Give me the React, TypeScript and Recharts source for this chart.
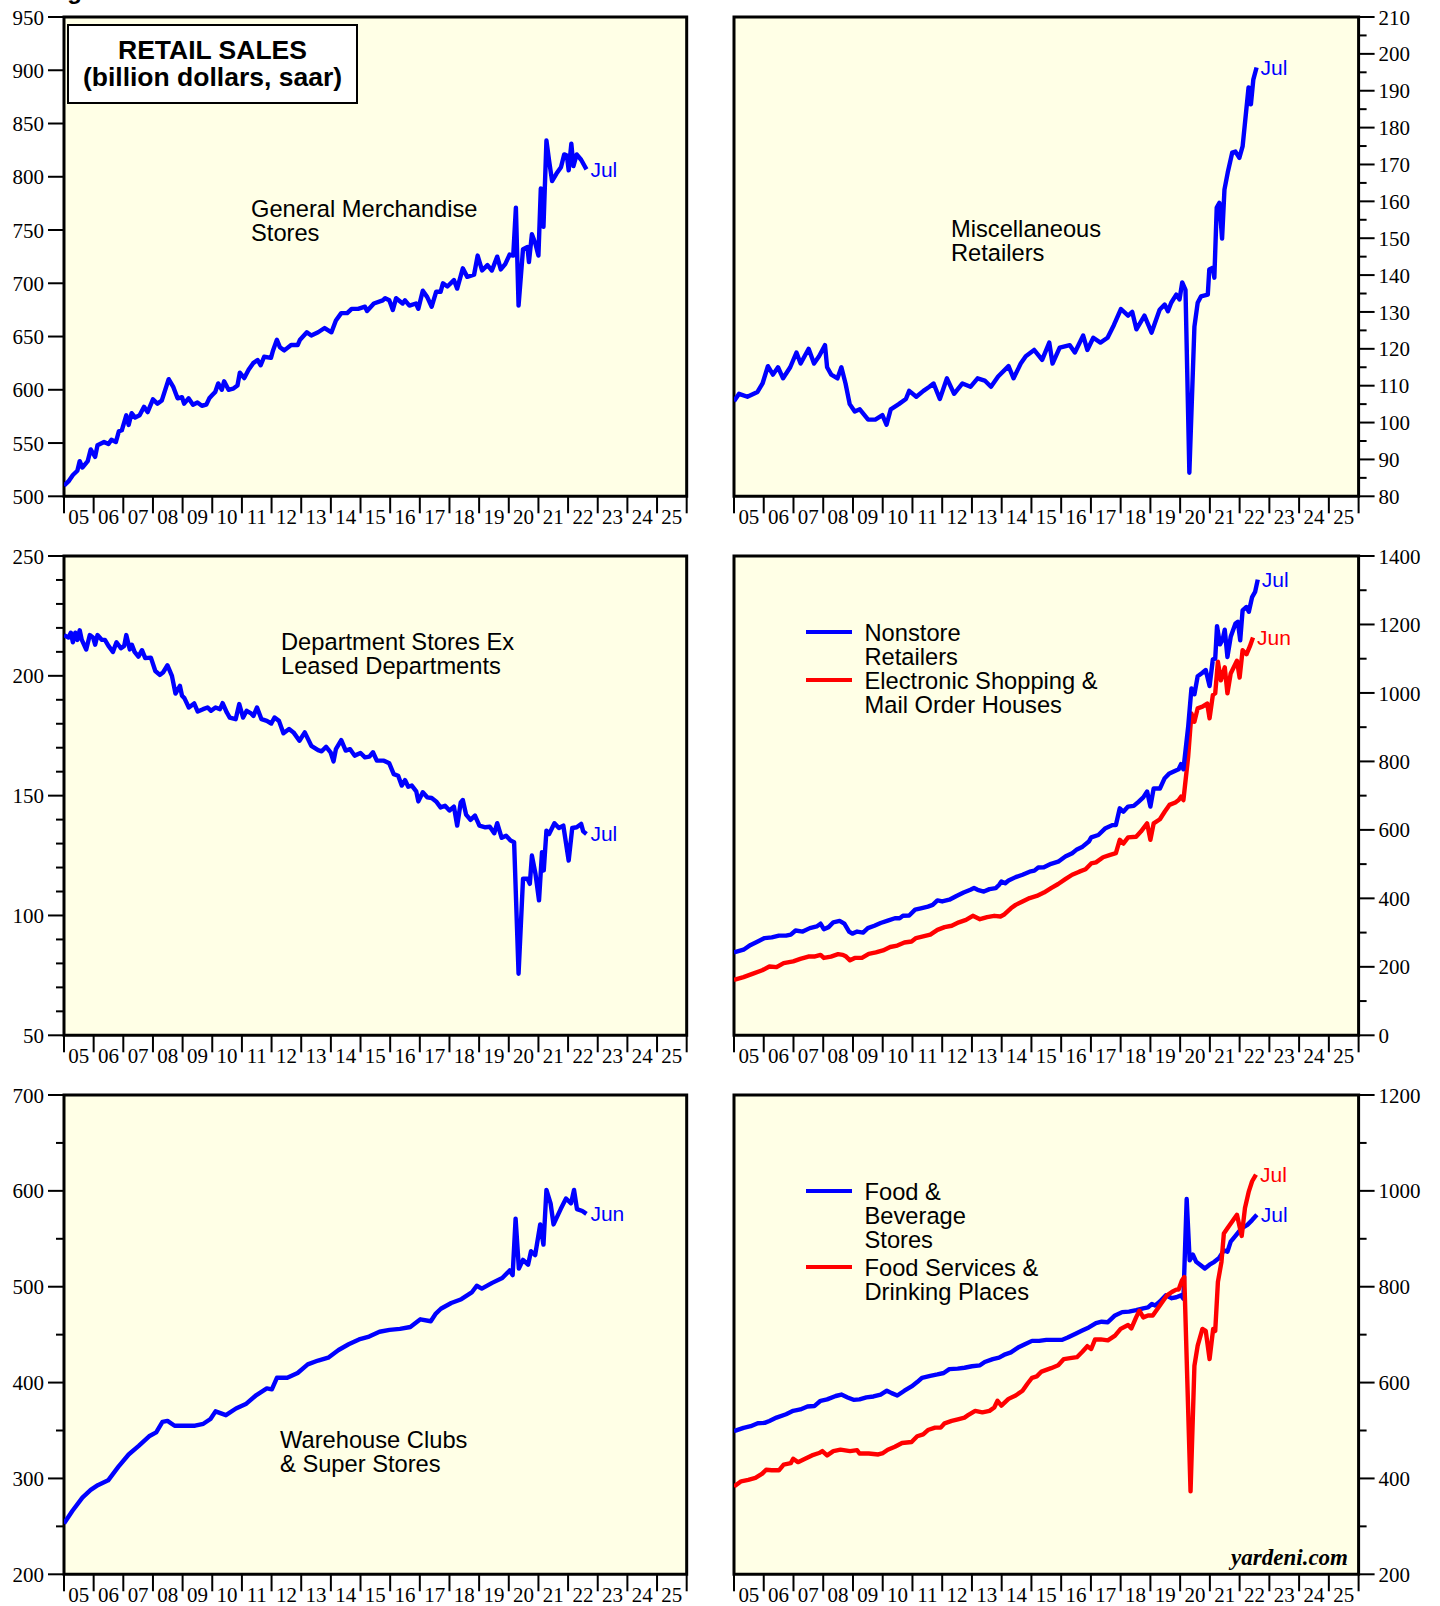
import React from "react";
import { LineChart, Line, XAxis, YAxis, ReferenceArea, ReferenceDot, Label } from "recharts";

type Pt = [number, number];

// x axis: year boundaries and the two-digit labels centred in each year
const yearLabels = ["05", "06", "07", "08", "09", "10", "11", "12", "13", "14", "15", "16", "17", "18", "19", "20", "21", "22", "23", "24", "25"];

// y ticks per panel
const gmMajor = [500, 550, 600, 650, 700, 750, 800, 850, 900, 950];
const gmMinor: number[] = [];
const miscMajor = [80, 90, 100, 110, 120, 130, 140, 150, 160, 170, 180, 190, 200, 210];
const miscMinor = [85, 95, 105, 115, 125, 135, 145, 155, 165, 175, 185, 195, 205];
const deptMajor = [50, 100, 150, 200, 250];
const deptMinor = [60, 70, 80, 90, 110, 120, 130, 140, 160, 170, 180, 190, 210, 220, 230, 240];
const nonstoreMajor = [0, 200, 400, 600, 800, 1000, 1200, 1400];
const nonstoreMinor = [100, 300, 500, 700, 900, 1100, 1300];
const whMajor = [200, 300, 400, 500, 600, 700];
const whMinor = [250, 350, 450, 550, 650];
const foodMajor = [200, 400, 600, 800, 1000, 1200];
const foodMinor = [300, 500, 700, 900, 1100];

// General Merchandise Stores
const generalMerch: Pt[] = [
  [2005.0, 510], [2005.15, 514], [2005.3, 520], [2005.45, 524], [2005.53, 533], [2005.62, 527], [2005.8, 533], [2005.9, 544],
  [2006.05, 537], [2006.13, 548], [2006.35, 551], [2006.5, 549], [2006.6, 553], [2006.75, 551], [2006.85, 561], [2006.95, 562],
  [2007.1, 576], [2007.18, 567], [2007.28, 578], [2007.4, 574], [2007.55, 576], [2007.7, 584], [2007.82, 579], [2008.0, 591],
  [2008.15, 587], [2008.3, 590], [2008.53, 610], [2008.68, 603], [2008.83, 592], [2008.98, 593], [2009.05, 587], [2009.2, 592],
  [2009.35, 586], [2009.5, 588], [2009.65, 585], [2009.8, 586], [2009.9, 592], [2010.0, 595], [2010.1, 598], [2010.2, 606],
  [2010.32, 600], [2010.4, 608], [2010.55, 600], [2010.7, 601], [2010.85, 604], [2010.93, 616], [2011.08, 611], [2011.23, 619],
  [2011.38, 625], [2011.53, 628], [2011.63, 623], [2011.75, 631], [2011.98, 630], [2012.05, 637], [2012.18, 647], [2012.28, 640],
  [2012.43, 637], [2012.66, 642], [2012.88, 642], [2012.96, 647], [2013.19, 654], [2013.34, 651], [2013.57, 654], [2013.79, 658],
  [2014.02, 654], [2014.17, 665], [2014.35, 672], [2014.55, 672], [2014.7, 676], [2014.92, 676], [2015.15, 678], [2015.22, 674],
  [2015.45, 681], [2015.75, 684], [2015.83, 686], [2015.97, 684], [2016.09, 675], [2016.2, 686], [2016.42, 681], [2016.5, 684],
  [2016.65, 679], [2016.87, 681], [2016.95, 676], [2017.1, 693], [2017.25, 687], [2017.4, 678], [2017.55, 692], [2017.7, 692],
  [2017.78, 700], [2017.93, 697], [2018.15, 703], [2018.26, 695], [2018.45, 714], [2018.6, 706], [2018.83, 708], [2018.95, 726],
  [2019.1, 712], [2019.28, 717], [2019.43, 712], [2019.61, 725], [2019.73, 713], [2019.88, 718], [2020.03, 727], [2020.15, 726],
  [2020.24, 771], [2020.33, 679], [2020.48, 732], [2020.63, 734], [2020.68, 720], [2020.78, 746], [2020.9, 737], [2021.0, 726],
  [2021.08, 789], [2021.17, 753], [2021.27, 834], [2021.36, 815], [2021.46, 796], [2021.61, 803], [2021.76, 809], [2021.87, 821],
  [2021.96, 820], [2022.02, 806], [2022.11, 831], [2022.18, 810], [2022.29, 821], [2022.44, 816], [2022.62, 807],
];

// Miscellaneous Retailers
const miscRetail: Pt[] = [
  [2005.0, 105.8], [2005.17, 107.8], [2005.45, 107], [2005.79, 108.3], [2005.96, 110.6], [2006.14, 115.3], [2006.31, 113],
  [2006.48, 115], [2006.65, 112], [2006.89, 115], [2007.1, 119], [2007.24, 116], [2007.51, 120], [2007.69, 116], [2007.86, 118],
  [2008.06, 121], [2008.13, 115], [2008.27, 113], [2008.48, 112], [2008.61, 115], [2008.75, 110.6], [2008.89, 105], [2009.06, 103],
  [2009.23, 103.6], [2009.51, 100.8], [2009.75, 100.8], [2009.99, 102], [2010.13, 99.4], [2010.27, 103.6], [2010.54, 105],
  [2010.78, 106.4], [2010.89, 108.6], [2011.13, 107], [2011.37, 108.6], [2011.57, 109.7], [2011.71, 110.6], [2011.92, 106.4],
  [2012.16, 112], [2012.4, 107.8], [2012.68, 110.6], [2012.95, 109.7], [2013.19, 112], [2013.43, 111.4], [2013.64, 109.7],
  [2013.88, 112.5], [2014.23, 115.3], [2014.4, 112], [2014.64, 116], [2014.81, 118], [2015.09, 119.7], [2015.36, 117],
  [2015.6, 121.7], [2015.71, 116], [2015.95, 120.3], [2016.29, 121], [2016.46, 119], [2016.74, 123.6], [2016.88, 119.7],
  [2017.08, 123], [2017.32, 121.7], [2017.56, 123], [2017.77, 126.4], [2018.01, 130.8], [2018.25, 129], [2018.39, 130],
  [2018.53, 125.3], [2018.8, 129], [2019.04, 124.4], [2019.31, 130.6], [2019.48, 132], [2019.59, 130.2], [2019.7, 132.5],
  [2019.87, 134.7], [2019.98, 133.4], [2020.07, 138], [2020.18, 136], [2020.31, 86.4], [2020.48, 126], [2020.59, 132.5],
  [2020.7, 134.2], [2020.93, 134.7], [2020.98, 141.5], [2021.1, 142], [2021.15, 139.3], [2021.23, 158.3], [2021.32, 159.6],
  [2021.41, 149.9], [2021.49, 163.2], [2021.6, 167.8], [2021.75, 173.2], [2021.86, 173.5], [2021.99, 171.8], [2022.1, 174.9],
  [2022.3, 190.9], [2022.38, 186.3], [2022.46, 193], [2022.57, 196.3],
];

// Department Stores Ex Leased Departments
const deptStores: Pt[] = [
  [2005.0, 217], [2005.15, 216], [2005.23, 218], [2005.3, 214], [2005.38, 218], [2005.45, 215], [2005.53, 219], [2005.6, 215],
  [2005.75, 211], [2005.87, 217], [2005.98, 216], [2006.05, 213], [2006.13, 217], [2006.28, 215], [2006.38, 215], [2006.5, 212.5],
  [2006.65, 210], [2006.77, 214], [2006.92, 211.5], [2007.03, 212.5], [2007.1, 217], [2007.22, 211], [2007.29, 213], [2007.38, 210],
  [2007.51, 208], [2007.63, 210.7], [2007.74, 207.4], [2007.93, 207.6], [2008.08, 202], [2008.23, 200.4], [2008.34, 201.4],
  [2008.49, 204.4], [2008.64, 200], [2008.76, 192.6], [2008.91, 195.8], [2008.98, 191.7], [2009.06, 190.7], [2009.21, 186.8],
  [2009.39, 188.5], [2009.51, 185.1], [2009.69, 186.1], [2009.84, 186.8], [2009.96, 185.4], [2010.11, 186.8], [2010.26, 186.1],
  [2010.35, 188.6], [2010.49, 184.7], [2010.59, 182.6], [2010.79, 181.9], [2010.91, 188.2], [2011.04, 182.6], [2011.16, 185.4],
  [2011.31, 184.3], [2011.39, 183.3], [2011.51, 186.8], [2011.66, 181.9], [2011.84, 181.2], [2011.99, 180.1], [2012.1, 182.6],
  [2012.25, 181.2], [2012.4, 176], [2012.59, 177.8], [2012.74, 176.4], [2012.94, 172.9], [2013.12, 176.4], [2013.34, 170.8],
  [2013.57, 169], [2013.69, 168.5], [2013.84, 170.4], [2013.99, 168.1], [2014.09, 164.3], [2014.17, 169.4], [2014.35, 173.2],
  [2014.5, 168.8], [2014.65, 169.4], [2014.8, 166.7], [2015.0, 167.8], [2015.15, 166], [2015.3, 166.3], [2015.42, 168.1],
  [2015.55, 164.6], [2015.79, 164.6], [2015.97, 163.5], [2016.12, 159], [2016.27, 158.3], [2016.39, 154.2], [2016.5, 156.5],
  [2016.61, 153.7], [2016.73, 154.2], [2016.88, 151.8], [2016.95, 147.6], [2017.1, 151.4], [2017.25, 149.3], [2017.4, 149],
  [2017.55, 147.6], [2017.7, 145.1], [2017.85, 145.8], [2018.0, 143.8], [2018.15, 145.4], [2018.26, 137.5], [2018.38, 147.2],
  [2018.45, 148.2], [2018.56, 142.1], [2018.71, 139.9], [2018.86, 141.7], [2019.01, 137.5], [2019.21, 136.8], [2019.36, 137],
  [2019.51, 134.3], [2019.61, 138.5], [2019.76, 132.4], [2019.91, 133.3], [2020.06, 131.3], [2020.18, 130.6], [2020.33, 75.7],
  [2020.48, 115.3], [2020.63, 115.3], [2020.71, 113.2], [2020.78, 125], [2020.9, 117.4], [2021.02, 106.3], [2021.12, 126.4],
  [2021.18, 118.8], [2021.27, 135.4], [2021.36, 134], [2021.54, 138.5], [2021.69, 136.5], [2021.84, 137.5], [2022.02, 122.9],
  [2022.14, 136.5], [2022.29, 136.8], [2022.44, 138.2], [2022.51, 135.1], [2022.62, 134],
];

// Nonstore Retailers
const nonstore: Pt[] = [
  [2005.0, 242], [2005.32, 250], [2005.56, 264], [2005.8, 274], [2006.03, 284], [2006.27, 286], [2006.51, 291], [2006.75, 291],
  [2006.91, 294], [2007.07, 306], [2007.31, 303], [2007.55, 313], [2007.78, 318], [2007.91, 326], [2008.02, 310], [2008.18, 316],
  [2008.34, 330], [2008.55, 334], [2008.71, 326], [2008.87, 303], [2008.98, 297], [2009.14, 303], [2009.34, 300], [2009.5, 313],
  [2009.72, 320], [2009.93, 328], [2010.17, 335], [2010.41, 342], [2010.57, 342], [2010.68, 349], [2010.89, 350], [2011.09, 367],
  [2011.28, 371], [2011.52, 376], [2011.68, 381], [2011.84, 394], [2012.0, 391], [2012.24, 396], [2012.48, 407], [2012.72, 417],
  [2012.95, 425], [2013.07, 430], [2013.19, 425], [2013.4, 420], [2013.59, 427], [2013.8, 430], [2013.91, 439], [2013.99, 449],
  [2014.12, 444], [2014.23, 452], [2014.47, 462], [2014.7, 469], [2014.94, 478], [2015.1, 481], [2015.23, 490], [2015.42, 491],
  [2015.66, 501], [2015.9, 507], [2016.14, 522], [2016.37, 532], [2016.53, 543], [2016.72, 551], [2016.93, 566], [2017.01, 578],
  [2017.25, 585], [2017.49, 605], [2017.73, 614], [2017.84, 614], [2017.97, 663], [2018.09, 653], [2018.25, 668], [2018.44, 670],
  [2018.6, 682], [2018.76, 695], [2018.89, 712], [2019.0, 668], [2019.11, 721], [2019.32, 721], [2019.48, 751], [2019.64, 765],
  [2019.84, 773], [2019.95, 777], [2020.03, 792], [2020.11, 777], [2020.27, 901], [2020.38, 1013], [2020.48, 996], [2020.59, 1049],
  [2020.75, 1059], [2020.86, 1067], [2020.99, 1020], [2021.1, 1098], [2021.18, 1100], [2021.24, 1195], [2021.34, 1142],
  [2021.43, 1156], [2021.5, 1185], [2021.59, 1105], [2021.7, 1164], [2021.86, 1203], [2021.94, 1208], [2022.02, 1154],
  [2022.1, 1241], [2022.23, 1251], [2022.31, 1237], [2022.42, 1280], [2022.52, 1295], [2022.61, 1331],
];

// Electronic Shopping & Mail Order Houses
const eShopping: Pt[] = [
  [2005.0, 162], [2005.32, 170], [2005.64, 180], [2005.95, 190], [2006.19, 201], [2006.43, 199], [2006.67, 211], [2006.99, 216],
  [2007.23, 223], [2007.5, 230], [2007.7, 230], [2007.91, 235], [2008.02, 226], [2008.26, 230], [2008.5, 237], [2008.66, 235],
  [2008.77, 230], [2008.9, 219], [2009.06, 226], [2009.3, 226], [2009.53, 238], [2009.77, 242], [2010.01, 248], [2010.25, 258],
  [2010.49, 262], [2010.73, 271], [2010.97, 274], [2011.12, 284], [2011.36, 289], [2011.6, 294], [2011.84, 308], [2012.08, 316],
  [2012.32, 320], [2012.56, 330], [2012.8, 337], [2013.03, 349], [2013.27, 339], [2013.51, 345], [2013.75, 349], [2013.96, 347],
  [2014.07, 352], [2014.31, 371], [2014.47, 381], [2014.7, 391], [2014.94, 401], [2015.18, 407], [2015.42, 417], [2015.66, 430],
  [2015.9, 442], [2016.14, 456], [2016.37, 469], [2016.61, 478], [2016.82, 485], [2017.01, 502], [2017.17, 505], [2017.41, 520],
  [2017.65, 527], [2017.84, 532], [2017.97, 571], [2018.09, 560], [2018.25, 578], [2018.52, 580], [2018.68, 595], [2018.89, 619],
  [2019.0, 571], [2019.11, 619], [2019.32, 631], [2019.48, 653], [2019.64, 673], [2019.84, 680], [2019.95, 687], [2020.03, 697],
  [2020.11, 687], [2020.27, 814], [2020.38, 940], [2020.48, 916], [2020.59, 955], [2020.75, 960], [2020.91, 969], [2020.99, 926],
  [2021.1, 994], [2021.18, 999], [2021.27, 1091], [2021.37, 1037], [2021.5, 1075], [2021.59, 999], [2021.7, 1057], [2021.91, 1094],
  [2022.0, 1045], [2022.1, 1125], [2022.23, 1113], [2022.34, 1135], [2022.45, 1162],
];

// Warehouse Clubs & Super Stores
const warehouse: Pt[] = [
  [2005.0, 253], [2005.28, 266], [2005.62, 280], [2005.9, 288], [2006.14, 293], [2006.49, 298], [2006.83, 312], [2007.18, 325],
  [2007.52, 334], [2007.87, 344], [2008.11, 348], [2008.32, 359], [2008.49, 360], [2008.73, 355], [2009.08, 355], [2009.42, 355],
  [2009.7, 357], [2009.94, 362], [2010.11, 370], [2010.46, 366], [2010.8, 373], [2011.15, 378], [2011.49, 387], [2011.84, 394],
  [2012.01, 393], [2012.18, 405], [2012.53, 405], [2012.88, 410], [2013.22, 419], [2013.57, 423], [2013.91, 426], [2014.26, 434],
  [2014.6, 440], [2014.95, 445], [2015.29, 448], [2015.64, 453], [2015.98, 455], [2016.33, 456], [2016.68, 458], [2017.02, 466],
  [2017.37, 464], [2017.54, 472], [2017.71, 477], [2018.06, 483], [2018.4, 487], [2018.75, 494], [2018.92, 501], [2019.09, 498],
  [2019.44, 504], [2019.78, 509], [2020.03, 517], [2020.13, 512], [2020.23, 571], [2020.34, 519], [2020.48, 528], [2020.65, 523],
  [2020.75, 537], [2020.89, 533], [2021.06, 565], [2021.17, 544], [2021.27, 601], [2021.41, 587], [2021.51, 565], [2021.75, 581],
  [2021.93, 592], [2022.1, 587], [2022.2, 601], [2022.3, 581], [2022.48, 579], [2022.62, 576],
];

// Food & Beverage Stores
const foodBev: Pt[] = [
  [2005.0, 498.6], [2005.32, 505.6], [2005.56, 509], [2005.8, 515], [2006.03, 516], [2006.19, 520], [2006.43, 527], [2006.75, 534],
  [2006.99, 541], [2007.23, 544], [2007.47, 550], [2007.7, 551], [2007.91, 562], [2008.13, 565], [2008.42, 572], [2008.61, 575],
  [2008.82, 569], [2009.02, 564], [2009.22, 565], [2009.45, 569], [2009.69, 571], [2009.93, 575], [2010.14, 583], [2010.3, 578],
  [2010.49, 573], [2010.73, 583], [2010.97, 592], [2011.16, 601], [2011.32, 610], [2011.6, 614], [2011.84, 617], [2012.05, 620],
  [2012.24, 628], [2012.52, 629], [2012.75, 631], [2013.0, 634], [2013.27, 636], [2013.43, 643], [2013.7, 649], [2013.91, 652],
  [2014.12, 659], [2014.31, 663], [2014.55, 673], [2014.78, 680], [2015.02, 687], [2015.26, 687], [2015.5, 689], [2015.77, 689],
  [2016.02, 689], [2016.22, 694], [2016.45, 701], [2016.69, 708], [2016.93, 715], [2017.17, 724], [2017.36, 727], [2017.57, 726],
  [2017.81, 740], [2018.05, 747], [2018.28, 748], [2018.52, 751], [2018.76, 755], [2018.92, 757], [2019.05, 764], [2019.16, 761],
  [2019.32, 769], [2019.52, 782], [2019.72, 776], [2019.87, 778], [2020.03, 782], [2020.11, 775], [2020.22, 983], [2020.32, 855],
  [2020.43, 867], [2020.54, 852], [2020.67, 846], [2020.83, 838], [2020.99, 846], [2021.15, 852], [2021.31, 860], [2021.47, 876],
  [2021.59, 873], [2021.7, 894], [2021.86, 906], [2022.07, 922], [2022.26, 929], [2022.42, 939], [2022.58, 950],
];

// Food Services & Drinking Places
const foodServices: Pt[] = [
  [2005.0, 383], [2005.24, 394], [2005.48, 397], [2005.72, 401], [2005.95, 410], [2006.08, 418], [2006.27, 417], [2006.51, 417],
  [2006.67, 429], [2006.91, 432], [2006.99, 441], [2007.15, 434], [2007.39, 441], [2007.62, 448], [2007.86, 453], [2007.97, 457],
  [2008.13, 448], [2008.34, 457], [2008.58, 460], [2008.9, 457], [2009.14, 459], [2009.22, 452], [2009.53, 452], [2009.85, 450],
  [2010.01, 453], [2010.17, 460], [2010.41, 466], [2010.65, 474], [2010.97, 476], [2011.16, 488], [2011.36, 492], [2011.52, 501],
  [2011.76, 506], [2011.95, 506], [2012.08, 515], [2012.32, 520], [2012.56, 524], [2012.75, 527], [2012.87, 532], [2013.11, 541],
  [2013.35, 538], [2013.59, 541], [2013.75, 548], [2013.86, 562], [2013.99, 552], [2014.23, 566], [2014.47, 573], [2014.7, 583],
  [2014.86, 597], [2015.02, 610], [2015.18, 613], [2015.34, 623], [2015.66, 630], [2015.9, 636], [2016.09, 649], [2016.3, 651],
  [2016.53, 653], [2016.72, 665], [2016.88, 676], [2017.01, 670], [2017.14, 690], [2017.33, 690], [2017.57, 688], [2017.81, 698],
  [2018.0, 712], [2018.25, 720], [2018.36, 713], [2018.52, 736], [2018.63, 750], [2018.76, 736], [2018.92, 740], [2019.08, 740],
  [2019.24, 754], [2019.4, 768], [2019.56, 782], [2019.72, 789], [2019.87, 794], [2019.95, 794], [2020.06, 813], [2020.14, 820],
  [2020.35, 373], [2020.48, 635], [2020.59, 677], [2020.75, 712], [2020.86, 708], [2020.99, 649], [2021.11, 712], [2021.18, 708],
  [2021.27, 810], [2021.39, 852], [2021.47, 911], [2021.59, 922], [2021.75, 936], [2021.91, 950], [2022.07, 906], [2022.18, 964],
  [2022.31, 999], [2022.42, 1020], [2022.55, 1034],
];

const SANS = '"Liberation Sans", Arial, Helvetica, sans-serif';
const SERIF = '"Liberation Serif", "Times New Roman", serif';
const BLUE = "#0000ff";
const RED = "#ff0000";
const PLOT_BG = "#ffffe6";

const X0 = 2005;
const X1 = 2026;
const yearTicks = yearLabels.map((_, i) => X0 + i).concat([X1]);
const labelTicks = yearLabels.map((_, i) => X0 + i + 0.5);
const xTicks = [...yearTicks, ...labelTicks].sort((a, b) => a - b);

const TICK = 16;
const TICK_GAP = 4;
const AXIS_W = 60;
const AXIS_W_R = 84;
const TOP_PAD = 10;
const X_AXIS_H = 44;
const LINE_W = 4.4;

const COLS = [
  { x: 63.5, w: 622.7 },
  { x: 734.4, w: 624.6 },
];
const ROWS = [17.4, 556.1, 1094.9];
const PLOT_H = 479.3;

function XTick(props: any) {
  const { x, y, payload } = props;
  const v: number = payload.value;
  if (Number.isInteger(v)) {
    return <line x1={x} x2={x} y1={y - TICK} y2={y + 1} stroke="#000" strokeWidth={2} />;
  }
  return (
    <text x={x} y={y + 11.5} textAnchor="middle" fontFamily={SERIF} fontSize={21} fill="#000">
      {yearLabels[Math.floor(v) - X0]}
    </text>
  );
}

const makeYTick = (side: "left" | "right", major: number[]) => (props: any) => {
  const { x, y, payload } = props;
  const v: number = payload.value;
  const isMajor = major.includes(v);
  const axisX = side === "left" ? x + TICK + TICK_GAP : x - TICK - TICK_GAP;
  const len = isMajor ? TICK : TICK / 2;
  const x2 = side === "left" ? axisX - len : axisX + len;
  return (
    <g>
      <line x1={axisX} x2={x2} y1={y} y2={y} stroke="#000" strokeWidth={2} />
      {isMajor && (
        <text x={x} y={y} dy="0.36em" textAnchor={side === "left" ? "end" : "start"} fontFamily={SERIF} fontSize={21} fill="#000">
          {v}
        </text>
      )}
    </g>
  );
};

interface SeriesDef {
  name: string;
  pts: Pt[];
  color: string;
  end: string;
}

interface PanelProps {
  col: number;
  row: number;
  domain: [number, number];
  major: number[];
  minor: number[];
  series: SeriesDef[];
}

function Panel({ col, row, domain, major, minor, series }: PanelProps) {
  const side = col === 0 ? "left" : "right";
  const { x, w } = COLS[col];
  const chartW = w + AXIS_W + AXIS_W_R;
  const chartH = PLOT_H + TOP_PAD + X_AXIS_H;
  const margin =
    side === "left"
      ? { top: TOP_PAD, right: AXIS_W_R, bottom: 0, left: 0 }
      : { top: TOP_PAD, right: 0, bottom: 0, left: AXIS_W };
  const yTicks = [...major, ...minor].sort((a, b) => a - b);
  return (
    <div style={{ position: "absolute", left: x - AXIS_W, top: ROWS[row] - TOP_PAD, width: chartW, height: chartH }}>
      <LineChart width={chartW} height={chartH} margin={margin}>
        <XAxis
          type="number"
          dataKey="t"
          domain={[X0, X1]}
          ticks={xTicks}
          interval={0}
          tickSize={TICK}
          tickMargin={0}
          axisLine={false}
          tickLine={false}
          tick={XTick}
          height={X_AXIS_H}
          allowDataOverflow
        />
        <YAxis
          type="number"
          orientation={side}
          domain={domain}
          ticks={yTicks}
          interval={0}
          width={side === "left" ? AXIS_W : AXIS_W_R}
          tickSize={TICK}
          tickMargin={TICK_GAP}
          axisLine={false}
          tickLine={false}
          tick={makeYTick(side, major)}
          allowDataOverflow
        />
        <ReferenceArea
          x1={X0}
          x2={X1}
          y1={domain[0]}
          y2={domain[1]}
          fill={PLOT_BG}
          fillOpacity={1}
          stroke="#000"
          strokeWidth={3}
          strokeOpacity={1}
        />
        {series.map((s) => (
          <Line
            key={s.name}
            data={s.pts.map(([t, v]) => ({ t, v }))}
            dataKey="v"
            name={s.name}
            type="linear"
            stroke={s.color}
            strokeWidth={LINE_W}
            strokeLinejoin="round"
            dot={false}
            activeDot={false}
            isAnimationActive={false}
          />
        ))}
        {series.map((s) => {
          const last = s.pts[s.pts.length - 1];
          return (
            <ReferenceDot key={s.name + "-end"} x={last[0]} y={last[1]} r={0} fill="none" stroke="none">
              <Label value={s.end} position="right" offset={4} fill={s.color} fontSize={21} fontFamily={SANS} />
            </ReferenceDot>
          );
        })}
      </LineChart>
    </div>
  );
}

const textStyle: React.CSSProperties = {
  position: "absolute",
  fontFamily: SANS,
  fontSize: 23.7,
  lineHeight: "24px",
  color: "#000",
  whiteSpace: "nowrap",
};

function LegendKey({ x, y, color }: { x: number; y: number; color: string }) {
  return <div style={{ position: "absolute", left: x, top: y - 2, width: 46, height: 4, background: color }} />;
}

export default function App() {
  return (
    <div style={{ position: "absolute", left: 0, top: 0, width: 1440, height: 1606, background: "#fff", overflow: "hidden" }}>
      {/* figure caption, mostly above the top edge as in the source */}
      <div style={{ position: "absolute", left: 46, top: -21, fontFamily: SANS, fontWeight: 700, fontSize: 24, lineHeight: "24px", color: "#000", whiteSpace: "nowrap" }}>
        Figure 6.
      </div>

      <Panel col={0} row={0} domain={[500, 950]} major={gmMajor} minor={gmMinor}
        series={[{ name: "General Merchandise Stores", pts: generalMerch, color: BLUE, end: "Jul" }]} />
      <Panel col={1} row={0} domain={[80, 210]} major={miscMajor} minor={miscMinor}
        series={[{ name: "Miscellaneous Retailers", pts: miscRetail, color: BLUE, end: "Jul" }]} />
      <Panel col={0} row={1} domain={[50, 250]} major={deptMajor} minor={deptMinor}
        series={[{ name: "Department Stores Ex Leased Departments", pts: deptStores, color: BLUE, end: "Jul" }]} />
      <Panel col={1} row={1} domain={[0, 1400]} major={nonstoreMajor} minor={nonstoreMinor}
        series={[
          { name: "Electronic Shopping & Mail Order Houses", pts: eShopping, color: RED, end: "Jun" },
          { name: "Nonstore Retailers", pts: nonstore, color: BLUE, end: "Jul" },
        ]} />
      <Panel col={0} row={2} domain={[200, 700]} major={whMajor} minor={whMinor}
        series={[{ name: "Warehouse Clubs & Super Stores", pts: warehouse, color: BLUE, end: "Jun" }]} />
      <Panel col={1} row={2} domain={[200, 1200]} major={foodMajor} minor={foodMinor}
        series={[
          { name: "Food & Beverage Stores", pts: foodBev, color: BLUE, end: "Jul" },
          { name: "Food Services & Drinking Places", pts: foodServices, color: RED, end: "Jul" },
        ]} />

      {/* title box */}
      <div
        style={{
          position: "absolute", left: 67, top: 23.5, width: 291, height: 80, boxSizing: "border-box",
          border: "2px solid #000", background: "#fff", display: "flex", flexDirection: "column",
          justifyContent: "center", alignItems: "center", fontFamily: SANS, fontWeight: 700, fontSize: 26.5, lineHeight: "27px",
        }}
      >
        <div>RETAIL SALES</div>
        <div>(billion dollars, saar)</div>
      </div>

      <div style={{ ...textStyle, left: 251, top: 197 }}>General Merchandise<br />Stores</div>
      <div style={{ ...textStyle, left: 951, top: 217 }}>Miscellaneous<br />Retailers</div>
      <div style={{ ...textStyle, left: 281, top: 630 }}>Department Stores Ex<br />Leased Departments</div>
      <div style={{ ...textStyle, left: 280, top: 1428 }}>Warehouse Clubs<br />&amp; Super Stores</div>

      <LegendKey x={806} y={632} color={BLUE} />
      <LegendKey x={806} y={680} color={RED} />
      <div style={{ ...textStyle, left: 864.5, top: 620.5 }}>Nonstore<br />Retailers<br />Electronic Shopping &amp;<br />Mail Order Houses</div>

      <LegendKey x={806} y={1191} color={BLUE} />
      <LegendKey x={806} y={1267} color={RED} />
      <div style={{ ...textStyle, left: 864.5, top: 1179.5 }}>Food &amp;<br />Beverage<br />Stores</div>
      <div style={{ ...textStyle, left: 864.5, top: 1256 }}>Food Services &amp;<br />Drinking Places</div>

      <div
        style={{
          position: "absolute", left: 1180, top: 1546, width: 168, textAlign: "right", fontFamily: SERIF,
          fontWeight: 700, fontStyle: "italic", fontSize: 23, lineHeight: "23px", color: "#000",
        }}
      >
        yardeni.com
      </div>
    </div>
  );
}
